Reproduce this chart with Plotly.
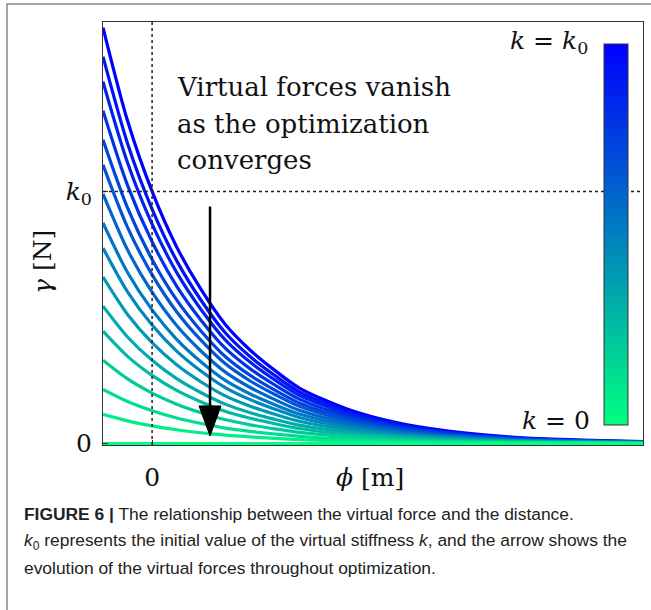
import plotly.graph_objects as go

# Distance samples (phi) and the decay profile of the force curve, normalised to k0
PHI = [-0.5, -0.25, 0.0, 0.25, 0.5, 0.75, 1.0, 1.25, 1.5, 2.0, 2.5, 3.0, 3.5, 4.0, 5.0]
PROFILE = [1.65, 1.28, 1.00, 0.78, 0.61, 0.47, 0.37, 0.29, 0.22, 0.135, 0.082, 0.050, 0.030, 0.018, 0.007]

# Virtual stiffness levels k / k0, from converged (0) to initial (1)
K_LEVELS = [0.00, 0.07, 0.13, 0.20, 0.27, 0.33, 0.40, 0.47, 0.53, 0.60, 0.67, 0.73, 0.80, 0.87, 0.93, 1.00]

# Arrow: phi position, start and end force values (in units of k0)
ARROW_PHI = 0.59
ARROW_FROM = 0.94
ARROW_TO = 0.03

Y_TICKS = [0, 1]
Y_TICKTEXT = ["0", "<i>k</i><sub>0</sub>"]
X_TICKS = [0]
X_TICKTEXT = ["0"]

GREEN = (0, 255, 128)
BLUE = (0, 0, 255)


def mix(t):
    r = round(GREEN[0] + (BLUE[0] - GREEN[0]) * t)
    g = round(GREEN[1] + (BLUE[1] - GREEN[1]) * t)
    b = round(GREEN[2] + (BLUE[2] - GREEN[2]) * t)
    return f"rgb({r},{g},{b})"


SERIF = "DejaVu Serif"
SANS = "Liberation Sans"

W, H = 651, 610
L, R, T, B = 103, 8, 22, 165
PW, PH = W - L - R, H - T - B


def px(x):
    return (x - L) / PW


def py(y):
    return (H - B - y) / PH


fig = go.Figure()

# one curve per stiffness level, strongest first so the converged ones sit on top
for k in sorted(K_LEVELS, reverse=True):
    fig.add_trace(go.Scatter(
        x=PHI, y=[k * p for p in PROFILE], mode="lines",
        line=dict(color=mix(k), width=3.2, shape="spline", smoothing=0.8),
        showlegend=False, hoverinfo="skip"))

# colour bar for k
fig.add_trace(go.Scatter(
    x=[None], y=[None], mode="markers", showlegend=False, hoverinfo="skip",
    marker=dict(color=[0, 1], cmin=0, cmax=1,
                colorscale=[[0, mix(0)], [1, mix(1)]], showscale=True,
                colorbar=dict(thicknessmode="pixels", thickness=24,
                              lenmode="pixels", len=381,
                              x=px(604), xanchor="left", xref="paper",
                              y=py(234.5), yanchor="middle", yref="paper",
                              xpad=0, ypad=0, outlinewidth=1, outlinecolor="#333",
                              showticklabels=False, ticks=""))))

# dotted guides at phi = 0 and gamma = k0
fig.add_shape(type="line", x0=0, x1=0, y0=0, y1=1, yref="paper", xref="x",
              line=dict(color="#222", width=1.5, dash="dot"))
fig.add_shape(type="line", x0=0, x1=1, xref="paper", y0=1, y1=1, yref="y",
              line=dict(color="#222", width=1.5, dash="dot"))

# arrow: shaft and filled head
fig.add_shape(type="line", x0=ARROW_PHI, x1=ARROW_PHI, y0=ARROW_FROM, y1=ARROW_TO + 0.05,
              line=dict(color="black", width=2.5))
fig.add_shape(type="path", xsizemode="pixel", ysizemode="pixel",
              xanchor=ARROW_PHI, yanchor=ARROW_TO,
              path="M -11 30 L 11 30 L 0 0 Z",
              fillcolor="black", line=dict(color="black", width=1))

# outer frame around the figure panel
fig.add_shape(type="rect", xref="paper", yref="paper",
              x0=px(7), x1=px(660), y0=py(4), y1=py(620),
              line=dict(color="#888", width=1.5), fillcolor="rgba(0,0,0,0)")

ann = []
msg = ["Virtual forces vanish", "as the optimization", "converges"]
for line, yy in zip(msg, [87, 124, 160]):
    ann.append(dict(text=line, x=px(175), y=py(yy), xref="paper", yref="paper",
                    xanchor="left", yanchor="middle", showarrow=False,
                    font=dict(family=SERIF, size=26, color="#111")))
ann.append(dict(text="<i>k</i> = <i>k</i><sub>0</sub>", x=px(590), y=py(42),
                xref="paper", yref="paper", xanchor="right", yanchor="middle",
                showarrow=False, font=dict(family=SERIF, size=25, color="#111")))
ann.append(dict(text="<i>k</i> = 0", x=px(592), y=py(420),
                xref="paper", yref="paper", xanchor="right", yanchor="middle",
                showarrow=False, font=dict(family=SERIF, size=25, color="#111")))
ann.append(dict(text="<i>ϕ</i> [m]", x=px(370), y=py(477), xref="paper", yref="paper",
                xanchor="center", yanchor="middle", showarrow=False,
                font=dict(family=SERIF, size=25, color="#111")))
ann.append(dict(text="<i>γ</i> [N]", x=px(42), y=py(262), xref="paper", yref="paper",
                xanchor="center", yanchor="middle", showarrow=False, textangle=-90,
                font=dict(family=SERIF, size=25, color="#111")))

caption = [
    "<b>FIGURE 6 |</b> The relationship between the virtual force and the distance.",
    "<i>k</i><sub>0</sub> represents the initial value of the virtual stiffness <i>k</i>, and the arrow shows the",
    "evolution of the virtual forces throughout optimization.",
]
for line, yy in zip(caption, [514, 541, 568]):
    ann.append(dict(text=line, x=px(22), y=py(yy), xref="paper", yref="paper",
                    xanchor="left", yanchor="middle", showarrow=False,
                    font=dict(family=SANS, size=17.4, color="#222")))

fig.update_layout(
    width=W, height=H, margin=dict(l=L, r=R, t=T, b=B),
    paper_bgcolor="white", plot_bgcolor="white",
    annotations=ann, showlegend=False,
    xaxis=dict(range=[-0.5, 5.0], showgrid=False, zeroline=False,
               showline=True, mirror=True, linecolor="#333", linewidth=1,
               tickvals=X_TICKS, ticktext=X_TICKTEXT, ticks="inside", ticklen=5,
               tickcolor="#333", ticklabelstandoff=10,
               tickfont=dict(family=SERIF, size=25, color="#111")),
    yaxis=dict(range=[-0.006, 1.672], showgrid=False, zeroline=False,
               showline=True, mirror=True, linecolor="#333", linewidth=1,
               tickvals=Y_TICKS, ticktext=Y_TICKTEXT, ticks="inside", ticklen=5,
               tickcolor="#333", ticklabelstandoff=5,
               tickfont=dict(family=SERIF, size=25, color="#111")),
)

fig.write_html("out.html")
